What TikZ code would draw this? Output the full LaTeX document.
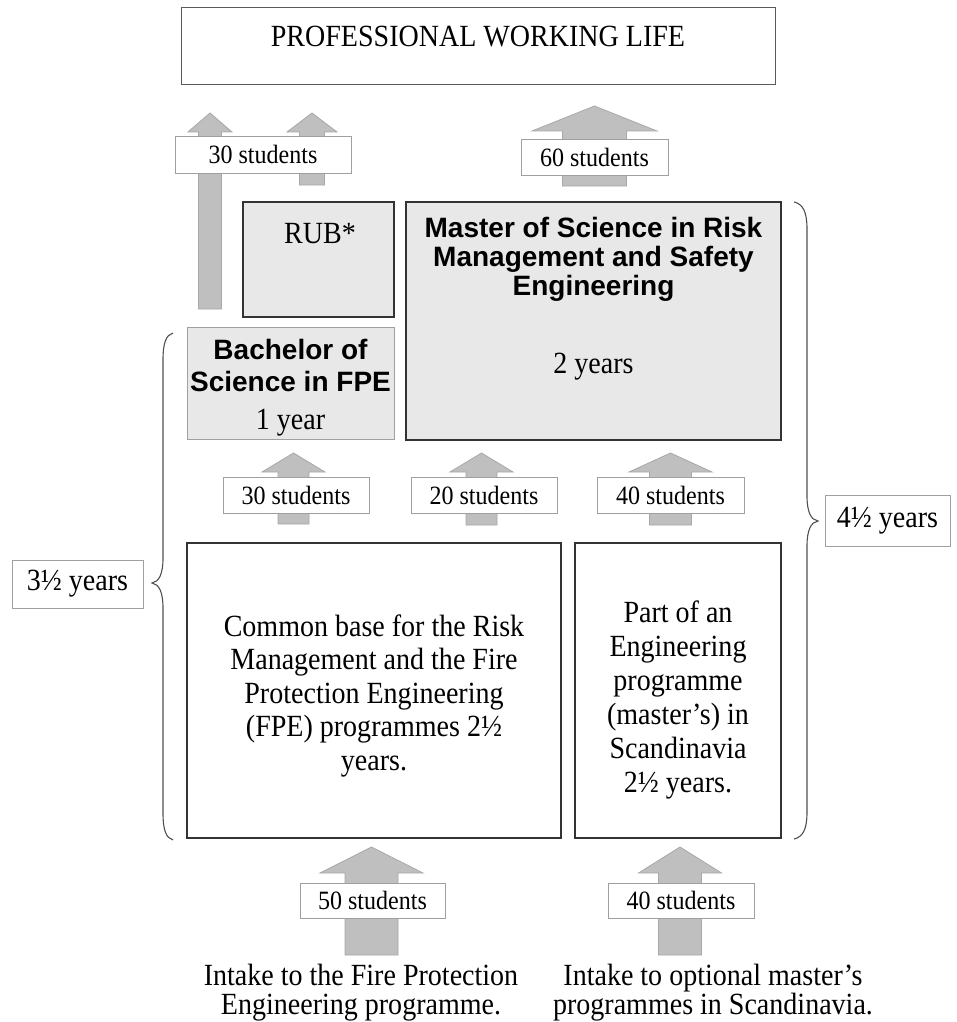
\documentclass[tikz,border=0pt]{standalone}
\usepackage{fontspec}
\setmainfont{Liberation Serif}[FakeStretch=0.91]
\setsansfont{Liberation Sans}
\definecolor{arrowgray}{HTML}{BFBFBF}
\definecolor{arrowedge}{HTML}{A8A8A8}
\definecolor{lblgray}{HTML}{A0A0A0}
\definecolor{boxfill}{HTML}{E8E8E8}
\definecolor{boxdark}{HTML}{333333}
\definecolor{topedge}{HTML}{5A5A5A}
\definecolor{braceedge}{HTML}{505050}
\newcommand{\blockup}[6]{\filldraw[blockarrow] ({#1-#6},#4) -- ({#1-#6},#3) -- ({#1-#5},#3) -- (#1,#2) -- ({#1+#5},#3) -- ({#1+#6},#3) -- ({#1+#6},#4) -- cycle;}
\tikzset{
  blockarrow/.style={fill=arrowgray, draw=arrowedge, line width=0.8pt},
  lbl/.style={draw=lblgray, fill=white, line width=0.8pt, inner sep=0pt, font=\fontsize{26.4}{30}\selectfont},
  bigtext/.style={font=\fontsize{30.8}{36}\selectfont, anchor=base, inner sep=0pt},
  boldtext/.style={font=\sffamily\bfseries\fontsize{28}{33}\selectfont, anchor=base, inner sep=0pt},
  darkbox/.style={draw=boxdark, line width=1.6pt, inner sep=0pt},
  greybox/.style={darkbox, fill=boxfill},
  bracestyle/.style={draw=braceedge, line width=1.1pt},
}
\begin{document}
\begin{tikzpicture}[x=1pt,y=-1pt]
\useasboundingbox[fill=white] (0,0) rectangle (957,1022);

% boxes
\node[draw=topedge, line width=1pt, minimum width=594pt, minimum height=77pt] (life) at (478,46.5) {};
\node[greybox, minimum width=151pt, minimum height=115pt] (rub) at (318.5,259.5) {};
\node[greybox, line width=2pt, minimum width=375pt, minimum height=238pt] (msc) at (593.5,321) {};
\node[draw=lblgray, fill=boxfill, line width=1pt, minimum width=207pt, minimum height=112pt] (bsc) at (290.5,383) {};
\node[darkbox, minimum width=374pt, minimum height=295pt] (common) at (374,690.5) {};
\node[darkbox, minimum width=206pt, minimum height=295pt] (part) at (678,690.5) {};

% texts
\node[bigtext] (lifet) at (478,47) {PROFESSIONAL WORKING LIFE};
\node[bigtext] (rubt) at (320,243) {RUB*};
\node[boldtext] (m1) at (593.5,237) {Master of Science in Risk};
\node[boldtext] (m2) at (593.5,266) {Management and Safety};
\node[boldtext] (m3) at (593.5,295) {Engineering};
\node[bigtext] (m4) at (593.5,373) {2 years};
\node[boldtext] (b1) at (290.5,359) {Bachelor of};
\node[boldtext] (b2) at (290.5,391) {Science in FPE};
\node[bigtext] (b3) at (290.5,429) {1 year};
\node[bigtext] (c1) at (374,636) {Common base for the Risk};
\node[bigtext] (c2) at (374,669.5) {Management and the Fire};
\node[bigtext] (c3) at (374,703) {Protection Engineering};
\node[bigtext] (c4) at (374,736.5) {(FPE) programmes 2½};
\node[bigtext] (c5) at (374,770) {years.};
\node[bigtext] (p1) at (678,622) {Part of an};
\node[bigtext] (p2) at (678,656) {Engineering};
\node[bigtext] (p3) at (678,690) {programme};
\node[bigtext] (p4) at (678,724) {(master’s) in};
\node[bigtext] (p5) at (678,758) {Scandinavia};
\node[bigtext] (p6) at (678,792) {2½ years.};
\node[bigtext] (i1) at (361,985) {Intake to the Fire Protection};
\node[bigtext] (i2) at (361,1014) {Engineering programme.};
\node[bigtext] (j1) at (713,985) {Intake to optional master’s};
\node[bigtext] (j2) at (713,1014) {programmes in Scandinavia.};

% block arrows
\blockup{210}{113}{132}{309}{22}{11.5}
\blockup{312}{113}{132}{185}{25}{12.5}
\blockup{594.5}{106}{131}{186}{62.5}{32}
\blockup{293.5}{453}{472}{524}{31.5}{15.5}
\blockup{481.5}{453}{472}{525}{31.5}{15.5}
\blockup{670.5}{453}{472}{525}{41.5}{21}
\blockup{371.5}{847}{873}{955}{51.5}{26.5}
\blockup{680}{847}{873}{955}{41.5}{21.5}

% labels
\node[lbl, minimum width=176pt, minimum height=37pt] (l30a) at (263,154.5) {30 students};
\node[lbl, minimum width=147pt, minimum height=36pt] (l60) at (594.5,157) {60 students};
\node[lbl, minimum width=146pt, minimum height=36pt] (l30b) at (296,495) {30 students};
\node[lbl, minimum width=146pt, minimum height=36pt] (l20) at (484,495) {20 students};
\node[lbl, minimum width=147pt, minimum height=36pt] (l40a) at (670.5,495) {40 students};
\node[lbl, minimum width=145pt, minimum height=35pt] (l50) at (372.5,900.5) {50 students};
\node[lbl, minimum width=146pt, minimum height=35pt] (l40b) at (681,900.5) {40 students};
\node[lbl, font=\fontsize{30.8}{36}\selectfont, minimum width=131pt, minimum height=48pt] (y35) at (77.5,584) {3½ years};
\node[lbl, font=\fontsize{30.8}{36}\selectfont, minimum width=125pt, minimum height=51pt] (y45) at (887.5,520.5) {4½ years};

% braces
\coordinate (lbt) at (173,333);
\coordinate (lbtip) at (152,583);
\coordinate (lbb) at (173,840);
\draw[bracestyle] (lbt) .. controls (166,335) and (163,343) .. (163,360) -- (163,558)
  .. controls (163,574) and (159,582) .. (lbtip) .. controls (159,584) and (163,592) .. (163,608)
  -- (163,813) .. controls (163,830) and (166,838) .. (lbb);
\coordinate (rbt) at (794,202);
\coordinate (rbtip) at (818,521);
\coordinate (rbb) at (794,839);
\draw[bracestyle] (rbt) .. controls (803,204) and (807,212) .. (807,229) -- (807,496)
  .. controls (807,512) and (811,520) .. (rbtip) .. controls (811,522) and (807,530) .. (807,546)
  -- (807,812) .. controls (807,829) and (803,837) .. (rbb);
\end{tikzpicture}
\end{document}
